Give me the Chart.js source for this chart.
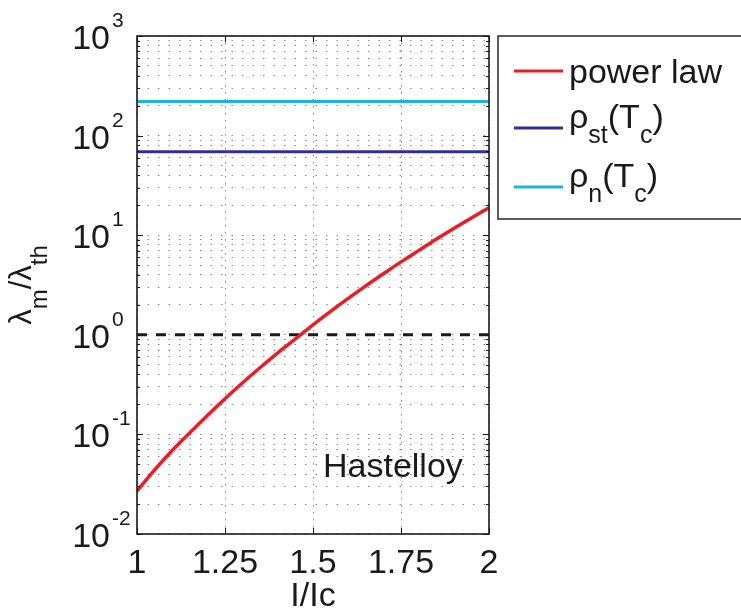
<!DOCTYPE html>
<html>
<head>
<meta charset="utf-8">
<script src="https://cdn.jsdelivr.net/npm/chart.js@4"></script>
<style>
  body { margin: 0; background: #fff; }
  canvas { display: block; }
</style>
</head>
<body>
<canvas id="chart" width="741" height="610"></canvas>
<script>
// values
const currentRatio = [1.0, 1.05, 1.1, 1.15, 1.2, 1.25, 1.3, 1.35, 1.4, 1.45, 1.5,
                      1.55, 1.6, 1.65, 1.7, 1.75, 1.8, 1.85, 1.9, 1.95, 2.0];
const powerLaw = [0.027, 0.044, 0.069, 0.104, 0.155, 0.228, 0.33, 0.47, 0.66, 0.91, 1.26,
                  1.72, 2.32, 3.1, 4.1, 5.4, 7.0, 9.1, 11.7, 14.9, 18.9];
const xRange = [1, 2];
const rhoSt = [69, 69];
const rhoN = [220, 220];
const threshold = [1, 1];
const xTicks = [1, 1.25, 1.5, 1.75, 2];
const xTickLabels = ['1', '1.25', '1.5', '1.75', '2'];
const yExponents = [-2, -1, 0, 1, 2, 3];
const seriesNames = ['power law', 'ρst(Tc)', 'ρn(Tc)'];
const colors = ['#ed1c24', '#2e3192', '#1db1e7'];

const FONT = '"Liberation Sans", Arial, Helvetica, sans-serif';

// legend/axis text with TeX-like subscripts: [text, isSub]
const legendParts = [
  [['power law', 0]],
  [['ρ', 0], ['st', 1], ['(T', 0], ['c', 1], [')', 0]],
  [['ρ', 0], ['n', 1], ['(T', 0], ['c', 1], [')', 0]]
];
const yTitleParts = [['λ', 0], ['m', 1], ['/λ', 0], ['th', 1]];

function toPoints(xs, ys) {
  return xs.map((x, i) => ({ x: x, y: ys[i] }));
}

function richWidth(ctx, parts, size, subSize) {
  let w = 0;
  parts.forEach(p => {
    ctx.font = (p[1] ? subSize : size) + 'px ' + FONT;
    w += ctx.measureText(p[0]).width;
  });
  return w;
}

function drawRich(ctx, parts, x, y, size, subSize, shift) {
  ctx.textAlign = 'left';
  ctx.textBaseline = 'alphabetic';
  parts.forEach(p => {
    ctx.font = (p[1] ? subSize : size) + 'px ' + FONT;
    ctx.fillText(p[0], x, p[1] ? y + shift : y);
    x += ctx.measureText(p[0]).width;
  });
}

const decorations = {
  id: 'decorations',
  afterDraw(chart) {
    const ctx = chart.ctx;
    const area = chart.chartArea;
    const xs = chart.scales.x;
    const ys = chart.scales.y;
    ctx.save();
    ctx.fillStyle = '#1a1a1a';
    ctx.strokeStyle = '#1a1a1a';

    // inward tick marks
    ctx.lineWidth = 1;
    ys.ticks.forEach(t => {
      const py = Math.round(ys.getPixelForValue(t.value)) + 0.5;
      const major = Math.abs(Math.log10(t.value) % 1) < 1e-6;
      const len = major ? 6 : 3;
      ctx.beginPath();
      ctx.moveTo(area.left, py); ctx.lineTo(area.left + len, py);
      ctx.moveTo(area.right, py); ctx.lineTo(area.right - len, py);
      ctx.stroke();
    });
    xTicks.forEach(v => {
      const px = Math.round(xs.getPixelForValue(v)) + 0.5;
      ctx.beginPath();
      ctx.moveTo(px, area.bottom); ctx.lineTo(px, area.bottom - 6);
      ctx.moveTo(px, area.top); ctx.lineTo(px, area.top + 6);
      ctx.stroke();
    });

    // axes box
    ctx.lineWidth = 1.6;
    ctx.strokeRect(area.left, area.top, area.right - area.left, area.bottom - area.top);

    // x tick labels
    ctx.font = '34px ' + FONT;
    ctx.textAlign = 'center';
    ctx.textBaseline = 'alphabetic';
    xTicks.forEach((v, i) => {
      ctx.fillText(xTickLabels[i], xs.getPixelForValue(v), 573);
    });
    ctx.fillText('I/Ic', (area.left + area.right) / 2, 606);

    // y tick labels 10^n
    yExponents.forEach(e => {
      const py = ys.getPixelForValue(Math.pow(10, e));
      ctx.font = '34px ' + FONT;
      ctx.textAlign = 'right';
      ctx.fillText('10', 110, py + 13);
      ctx.font = '21px ' + FONT;
      ctx.textAlign = 'left';
      ctx.fillText(String(e), 112, py - 9);
    });

    // y axis title, rotated
    ctx.save();
    ctx.translate(31, (area.top + area.bottom) / 2);
    ctx.rotate(-Math.PI / 2);
    const tw = richWidth(ctx, yTitleParts, 31, 24);
    drawRich(ctx, yTitleParts, -tw / 2, 0, 31, 24, 16);
    ctx.restore();

    // annotation
    ctx.font = '34px ' + FONT;
    ctx.textAlign = 'left';
    ctx.fillText('Hastelloy', 323, 477);

    // legend box
    ctx.lineWidth = 1.6;
    ctx.strokeStyle = '#333';
    ctx.strokeRect(498, 36, 260, 183);
    const lineY = [71, 128, 187];
    const baseY = [83, 128, 187];
    seriesNames.forEach((name, i) => {
      ctx.strokeStyle = colors[i];
      ctx.lineWidth = 3;
      ctx.beginPath();
      ctx.moveTo(514, lineY[i]);
      ctx.lineTo(563, lineY[i]);
      ctx.stroke();
      ctx.fillStyle = '#1a1a1a';
      drawRich(ctx, legendParts[i], 569, baseY[i], 34, 25, 15);
    });
    ctx.restore();
  }
};

const yGridValues = [];
yExponents.forEach(e => {
  for (let m = 1; m <= 9; m++) {
    const v = m * Math.pow(10, e);
    if (v <= Math.pow(10, yExponents[yExponents.length - 1]) + 1e-9) yGridValues.push(v);
  }
});

const ctx = document.getElementById('chart').getContext('2d');
const chart = new Chart(ctx, {
  type: 'line',
  data: {
    datasets: [{
      label: seriesNames[0],
      data: toPoints(currentRatio, powerLaw),
      borderColor: colors[0],
      borderWidth: 3.5,
      pointRadius: 0,
      cubicInterpolationMode: 'monotone'
    }, {
      label: seriesNames[1],
      data: toPoints(xRange, rhoSt),
      borderColor: colors[1],
      borderWidth: 3,
      pointRadius: 0
    }, {
      label: seriesNames[2],
      data: toPoints(xRange, rhoN),
      borderColor: colors[2],
      borderWidth: 3,
      pointRadius: 0
    }, {
      label: 'threshold',
      data: toPoints(xRange, threshold),
      borderColor: '#1a1a1a',
      borderWidth: 3,
      borderDash: [10, 9],
      pointRadius: 0
    }]
  },
  options: {
    responsive: false,
    animation: false,
    layout: {
      padding: { left: 137, top: 36, right: 252, bottom: 76 }
    },
    plugins: {
      legend: { display: false },
      tooltip: { enabled: false }
    },
    scales: {
      x: {
        type: 'linear',
        min: xRange[0],
        max: xRange[1],
        afterBuildTicks: (scale) => {
          scale.ticks = xTicks.map(v => ({ value: v }));
        },
        afterFit: (scale) => { scale.height = 0; },
        ticks: { display: false },
        grid: { color: 'rgba(60,60,60,0.6)', lineWidth: 1, drawTicks: false },
        border: { display: false, dash: [1.5, 5.5] }
      },
      y: {
        type: 'logarithmic',
        min: 0.01,
        max: 1000,
        afterBuildTicks: (scale) => {
          scale.ticks = yGridValues.map(v => ({ value: v }));
        },
        afterFit: (scale) => { scale.width = 0; },
        ticks: { display: false },
        grid: { color: 'rgba(60,60,60,0.6)', lineWidth: 1, drawTicks: false },
        border: { display: false, dash: [1.5, 9] }
      }
    }
  },
  plugins: [decorations]
});
</script>
</body>
</html>
